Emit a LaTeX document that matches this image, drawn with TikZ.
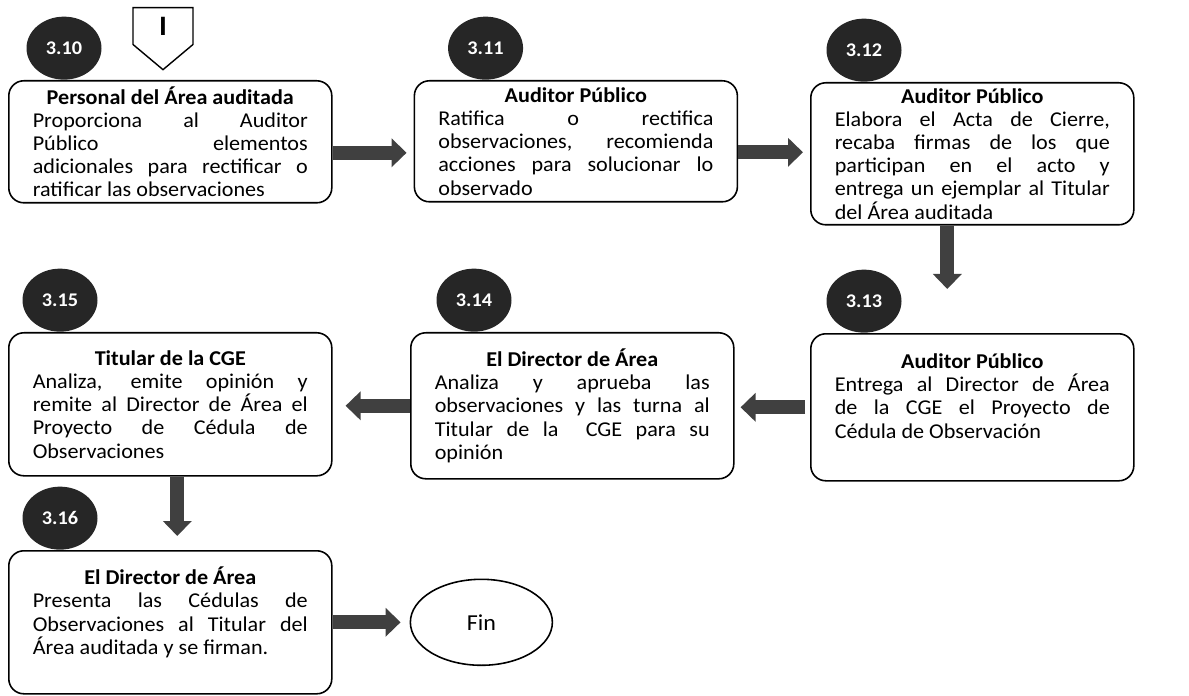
\documentclass[tikz,border=0pt]{standalone}
\usepackage{fontspec}
\setmainfont{Carlito}[FakeStretch=1.05]
\usetikzlibrary{arrows.meta, shapes.geometric, shapes.symbols, positioning, calc}
\setlength{\parindent}{0pt}
\hyphenpenalty=10000
\newcommand{\steptitle}[1]{{\centering\bfseries #1\par}}
\newcommand{\stepgap}[1]{\par\vspace*{#1}\hrule height 0pt}
\tikzset{
    stepbox/.style={rectangle, rounded corners=0.3cm, draw=black, line width=0.9pt,
        text width=5.5cm, inner xsep=0.48cm, inner ysep=0.05cm, align=justify,
        anchor=north west, font=\fontsize{12}{13.2}\selectfont},
    stepnum/.style={ellipse, fill=black!85, text=white, inner sep=0pt,
        minimum width=1.5cm, minimum height=1.26cm, anchor=south,
        font=\bfseries\fontsize{11}{11}\selectfont},
    blockarrow/.style={draw=black!75, line width=0.28cm,
        -{Triangle[width=0.56cm,length=0.3cm]}},
}

\begin{document}
\begin{tikzpicture}
            \useasboundingbox (0,0) rectangle (23.78,-13.92);

            % first row
            \node[stepbox, minimum height=2.44cm] (p310) at (0.16,-1.6)
                {\steptitle{Personal del Área auditada}
                 Proporciona al Auditor\linebreak Público elementos\linebreak
                 adicionales para rectificar o\linebreak ratificar las observaciones};
            \node[stepbox, minimum height=2.42cm] (p311) at ([xshift=1.62cm]p310.north east)
                {\steptitle{Auditor Público}
                 Ratifica o rectifica\linebreak observaciones, recomienda\linebreak
                 acciones para solucionar lo\linebreak observado};
            \node[stepbox, minimum height=2.84cm] (p312) at (16.2,-1.64)
                {\steptitle{Auditor Público}
                 Elabora el Acta de Cierre,\linebreak recaba firmas de los que\linebreak
                 participan en el acto y\linebreak entrega un ejemplar al Titular\linebreak
                 del Área auditada};

            % second row
            \node[stepbox, minimum height=2.94cm] (p313) at (16.2,-6.66)
                {\steptitle{Auditor Público}
                 Entrega al Director de Área\linebreak de la CGE el Proyecto de\linebreak
                 Cédula de Observación\stepgap{0.45cm}};
            \node[stepbox, minimum height=2.92cm] (p314) at (8.2,-6.64)
                {\steptitle{El Director de Área}
                 Analiza y aprueba las\linebreak observaciones y las turna al\linebreak
                 Titular de la~ CGE para su\linebreak opinión};
            \node[stepbox, minimum height=2.86cm] (p315) at (0.16,-6.64)
                {\steptitle{Titular de la CGE}
                 Analiza, emite opinión y\linebreak remite al Director de Área el\linebreak
                 Proyecto de Cédula de\linebreak Observaciones};

            % third row
            \node[stepbox, minimum height=2.86cm] (p316) at (0.16,-11.0)
                {\steptitle{El Director de Área}
                 Presenta las Cédulas de\linebreak Observaciones al Titular del\linebreak
                 Área auditada y se firman.\stepgap{0.4cm}};
            \node[ellipse, draw=black, line width=0.9pt, minimum width=2.84cm,
                minimum height=1.72cm, font=\fontsize{13}{13}\selectfont,
                right=1.54cm of p316] (fin) {Fin};

            % step numbers
            \node[stepnum] (n310) at ([xshift=1.12cm]p310.north west) {3.10};
            \node[stepnum] (n311) at ([xshift=1.44cm]p311.north west) {3.11};
            \node[stepnum] (n312) at ([xshift=1.08cm]p312.north west) {3.12};
            \node[stepnum] (n313) at ([xshift=1.08cm]p313.north west) {3.13};
            \node[stepnum] (n314) at ([xshift=1.28cm]p314.north west) {3.14};
            \node[stepnum] (n315) at ([xshift=1.04cm]p315.north west) {3.15};
            \node[stepnum] (n316) at ([xshift=1.04cm]p316.north west) {3.16};

            % connector from the previous page
            \node[signal, signal to=south, signal pointer angle=100, draw=black,
                line width=0.8pt, minimum width=1.2cm, minimum height=0.9cm,
                anchor=north, font=\bfseries\fontsize{16}{16}\selectfont] (con) at (3.26,-0.14) {I};

            \draw[blockarrow, shorten >=0.14cm] ([yshift=-0.22cm]p310.east) -- ([yshift=-0.22cm]p310.east -| p311.west);
            \draw[blockarrow, shorten >=0.14cm] ([yshift=-0.22cm]p311.east) -- ([yshift=-0.22cm]p311.east -| p312.west);
            \draw[blockarrow, shorten >=0.88cm] ([xshift=-0.5cm]p312.south) -- ([xshift=-0.5cm]p312.south |- p313.north);
            \draw[blockarrow, shorten <=0.1cm, shorten >=0.12cm] (p313.west) -- (p313.west -| p314.east);
            \draw[blockarrow, shorten >=0.26cm] (p314.west) -- (p314.west -| p315.east);
            \draw[blockarrow, shorten >=0.28cm] ([xshift=0.14cm]p315.south) -- ([xshift=0.14cm]p315.south |- p316.north);
            \draw[blockarrow, shorten >=0.18cm] (p316.east) -- (fin.west);

          \end{tikzpicture}
\end{document}
